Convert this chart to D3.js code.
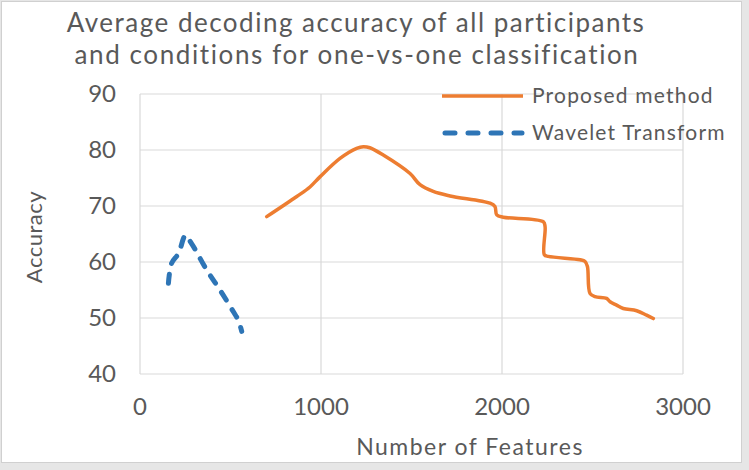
<!DOCTYPE html>
<html>
<head>
<meta charset="utf-8">
<script src="https://cdn.jsdelivr.net/npm/d3@7"></script>
<style>
  body { margin: 0; background: #fff; }
  text { font-family: Lato, "Open Sans", sans-serif; fill: #595959; }
</style>
</head>
<body>
<div id="chart"></div>
<script>
// data
var proposedX = [700, 866, 939, 994, 1105, 1197, 1234, 1270, 1344, 1492, 1547, 1620, 1713, 1934, 1961, 1971, 2007, 2228, 2238, 2234, 2256, 2431, 2459, 2472, 2486, 2514, 2578, 2597, 2633, 2670, 2744, 2799, 2836];
var proposedY = [68.1, 71.7, 73.4, 75.2, 78.5, 80.3, 80.6, 80.4, 79.1, 75.8, 73.8, 72.6, 71.8, 70.5, 69.9, 68.4, 68.0, 67.2, 66.3, 61.3, 61.0, 60.4, 60.1, 59.2, 54.4, 53.8, 53.5, 52.9, 52.3, 51.7, 51.3, 50.5, 49.9];
var waveletX = [157, 175, 212, 240, 249, 285, 368, 442, 516, 543, 562];
var waveletY = [56.2, 59.8, 61.5, 64.2, 64.8, 63.3, 58.6, 55.0, 51.1, 49.6, 47.6];
var xTicks = [0, 1000, 2000, 3000];
var yTicks = [40, 50, 60, 70, 80, 90];
var seriesNames = ["Proposed method", "Wavelet Transform"];

var width = 749, height = 470;
var margin = {top: 94, right: 66, bottom: 96, left: 140};
var w = 683 - margin.left, h = 374 - margin.top;

var svg = d3.select("#chart")
  .append("svg")
    .attr("width", width)
    .attr("height", height);

// outer frame
svg.append("rect")
  .attr("x", 0).attr("y", 0).attr("width", width).attr("height", height)
  .attr("fill", "#e6e6e6");
svg.append("rect")
  .attr("x", 1.5).attr("y", 1.5).attr("width", 740).attr("height", 461)
  .attr("fill", "#fff").attr("stroke", "#d0d0d0");

var g = svg.append("g")
  .attr("transform", "translate(" + margin.left + "," + margin.top + ")");

var x = d3.scaleLinear().domain([0, 3000]).range([0, w]);
var y = d3.scaleLinear().domain([40, 90]).range([h, 0]);

// gridlines
g.selectAll(".hgrid").data(yTicks).enter().append("line")
  .attr("x1", 0).attr("x2", w)
  .attr("y1", function(d) { return y(d); }).attr("y2", function(d) { return y(d); })
  .attr("stroke", "#d9d9d9").attr("stroke-width", 1.2);
g.selectAll(".vgrid").data(xTicks).enter().append("line")
  .attr("y1", 0).attr("y2", h)
  .attr("x1", function(d) { return x(d); }).attr("x2", function(d) { return x(d); })
  .attr("stroke", "#d9d9d9").attr("stroke-width", 1.2);

// tick labels
g.selectAll(".ylab").data(yTicks).enter().append("text")
  .attr("x", -24).attr("y", function(d) { return y(d); })
  .attr("dy", "0.35em").attr("text-anchor", "end")
  .style("font-size", "24px")
  .text(function(d) { return d; });
g.selectAll(".xlab").data(xTicks).enter().append("text")
  .attr("x", function(d) { return x(d); }).attr("y", h + 41)
  .attr("text-anchor", "middle")
  .style("font-size", "24px")
  .text(function(d) { return d; });

// axis titles
svg.append("text")
  .attr("transform", "translate(42,237) rotate(-90)")
  .attr("text-anchor", "middle")
  .style("font-size", "22px")
  .style("letter-spacing", "0.5px")
  .text("Accuracy");
svg.append("text")
  .attr("x", 470).attr("y", 455)
  .attr("text-anchor", "middle")
  .style("font-size", "23px")
  .style("letter-spacing", "1.5px")
  .text("Number of Features");

// title
svg.append("text")
  .attr("x", 356).attr("y", 32)
  .attr("text-anchor", "middle")
  .style("font-size", "26px")
  .style("letter-spacing", "1.5px")
  .text("Average decoding accuracy of all participants");
svg.append("text")
  .attr("x", 357).attr("y", 64)
  .attr("text-anchor", "middle")
  .style("font-size", "26px")
  .style("letter-spacing", "1.6px")
  .text("and conditions for one-vs-one classification");

// lines
var line = d3.line()
  .x(function(d) { return x(d[0]); })
  .y(function(d) { return y(d[1]); })
  .curve(d3.curveCatmullRom.alpha(0.5));

g.append("path")
  .datum(d3.zip(proposedX, proposedY))
  .attr("d", line)
  .attr("fill", "none")
  .attr("stroke", "#ED7D31")
  .attr("stroke-width", 3.5)
  .attr("stroke-linejoin", "round")
  .attr("stroke-linecap", "round");

g.append("path")
  .datum(d3.zip(waveletX, waveletY))
  .attr("d", line)
  .attr("fill", "none")
  .attr("stroke", "#2E75B6")
  .attr("stroke-width", 5)
  .attr("stroke-dasharray", "9,11")
  .attr("stroke-linecap", "round");

// legend
var legend = svg.append("g");
legend.append("line")
  .attr("x1", 442).attr("x2", 523).attr("y1", 96).attr("y2", 96)
  .attr("stroke", "#ED7D31").attr("stroke-width", 3.5);
legend.append("line")
  .attr("x1", 445).attr("x2", 522).attr("y1", 133).attr("y2", 133)
  .attr("stroke", "#2E75B6").attr("stroke-width", 5)
  .attr("stroke-dasharray", "10,13").attr("stroke-linecap", "round");
legend.selectAll(".leg").data(seriesNames).enter().append("text")
  .attr("x", 532).attr("y", function(d, i) { return 96 + i * 37; })
  .attr("dy", "0.35em")
  .style("font-size", "21px")
  .style("letter-spacing", "1.2px")
  .text(function(d) { return d; });
</script>
</body>
</html>
